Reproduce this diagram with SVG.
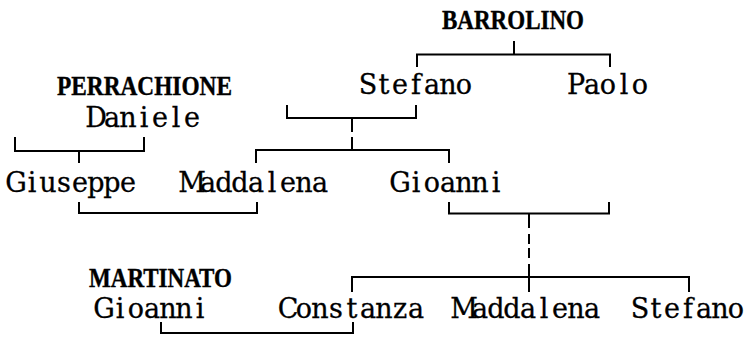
<svg xmlns="http://www.w3.org/2000/svg" width="747" height="342" viewBox="0 0 747 342">
<style>
.t{font-family:"DejaVu Serif","Liberation Serif",serif;font-size:27px;fill:#000;stroke:#000;stroke-width:0.3;text-anchor:middle;}
.b{font-family:"Liberation Serif","DejaVu Serif",serif;font-size:28px;font-weight:bold;fill:#000;stroke:#000;stroke-width:0.4;}
.l{stroke:#000;stroke-width:2;fill:none;stroke-linecap:butt;}
</style>
<rect width="747" height="342" fill="#fff"/>
<g id="connectors">
<path class="l" d="M514 41V54.5M417 67V54.5H610V67"/>
<path class="l" d="M287 105V118H416V105M352 118V132M352 137V150M256 163V150H449V163"/>
<path class="l" d="M15 137V151H144V137M79 151V163"/>
<path class="l" d="M79 202V213H257V202"/>
<path class="l" d="M449 202V213.5H609V202M529 213.5V228M529 234V244M529 248V258M529 264V292"/>
<path class="l" d="M352 292V277H689V292"/>
<path class="l" d="M161 322V333H353V322"/>
</g>
<g id="barrolino"><text class="b" x="442" y="29" textLength="142" lengthAdjust="spacingAndGlyphs">BARROLINO</text></g>
<g id="stefano1"><text class="t" x="368 384 400 416 432 448 464" y="94">Stefano</text></g>
<g id="paolo"><text class="t" x="576 592 608 624 640" y="94">Paolo</text></g>
<g id="perrachione"><text class="b" x="57" y="95" textLength="175" lengthAdjust="spacingAndGlyphs">PERRACHIONE</text><text class="t" x="96 112 128 144 160 176 192" y="127">Daniele</text></g>
<g id="giuseppe"><text class="t" x="16 32 48 64 80 96 112 128" y="192">Giuseppe</text></g>
<g id="maddalena1"><text class="t" x="192 208 224 240 256 272 288 304 320" y="192">Maddalena</text></g>
<g id="gioanni1"><text class="t" x="400 416 432 448 464 480 496" y="192">Gioanni</text></g>
<g id="martinato"><text class="b" x="89" y="287" textLength="143" lengthAdjust="spacingAndGlyphs">MARTINATO</text><text class="t" x="104 120 136 152 168 184 200" y="318">Gioanni</text></g>
<g id="constanza"><text class="t" x="288 304 320 336 352 368 384 400 416" y="318">Constanza</text></g>
<g id="maddalena2"><text class="t" x="464 480 496 512 528 544 560 576 592" y="318">Maddalena</text></g>
<g id="stefano2"><text class="t" x="640 656 672 688 704 720 736" y="318">Stefano</text></g>
</svg>
